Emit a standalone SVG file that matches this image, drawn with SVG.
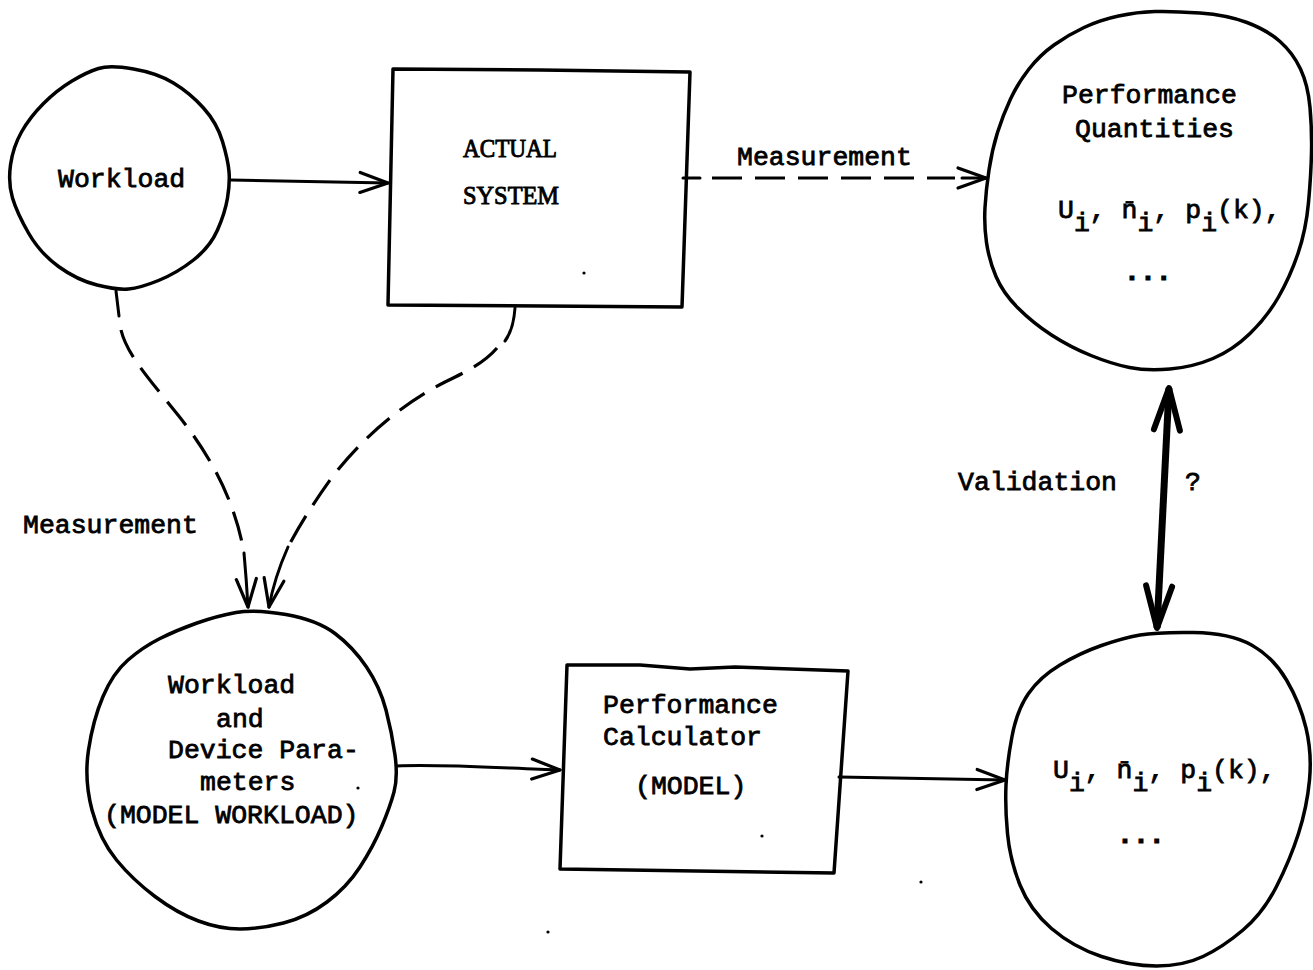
<svg xmlns="http://www.w3.org/2000/svg" width="1313" height="970" viewBox="0 0 1313 970">
  <style>
    .shape { fill: none; stroke: #000; stroke-width: 3.5; stroke-linejoin: round; stroke-linecap: round; }
    .line { fill: none; stroke: #000; stroke-width: 3; stroke-linecap: round; }
    .dash { fill: none; stroke: #000; stroke-width: 3.2; stroke-dasharray: 30 13; stroke-linecap: butt; }
    .heavy { fill: none; stroke: #000; stroke-width: 7; stroke-linecap: butt; }
    .tt { font-family: "Liberation Mono", "DejaVu Sans Mono", monospace; font-size: 26.5px; fill: #000; stroke: #000; stroke-width: 0.8; }
    .rm { font-family: "Liberation Serif", "DejaVu Serif", serif; font-size: 25px; fill: #000; stroke: #000; stroke-width: 0.9; }
    .dots { font-weight: bold; stroke-width: 1.2; }
    .speck { fill: #000; }
  </style>
  <defs>
    <marker id="open" markerUnits="userSpaceOnUse" viewBox="0 0 34 26" markerWidth="34" markerHeight="26" refX="31" refY="13" orient="auto">
      <path d="M3,3 L31,13 L3,23" fill="none" stroke="#000" stroke-width="3.2" stroke-linecap="round" stroke-linejoin="round"/>
    </marker>
    <marker id="bold-head" markerUnits="userSpaceOnUse" viewBox="0 0 52 34" markerWidth="52" markerHeight="34" refX="47" refY="17" orient="auto-start-reverse">
      <path d="M5,4 L47,17 L5,30" fill="none" stroke="#000" stroke-width="6" stroke-linecap="round" stroke-linejoin="round"/>
    </marker>
  </defs>
  <rect width="1313" height="970" fill="#fff"/>

  <!-- Workload -->
  <g id="workload">
    <path class="shape" d="M98.5,68.5 Q110,65 133.5,69 Q157,73 173.5,83 Q190,93 203.5,108 Q217,123 222.5,141.5 Q228,160 229,171.5 Q230,183 227.5,198 Q225,213 217.5,230 Q210,247 193.5,260 Q177,273 158.5,280.5 Q140,288 128.5,289 Q117,290 97,285 Q77,280 58.5,266.5 Q40,253 28.5,233 Q17,213 12.5,198 Q8,183 10.5,165 Q13,147 21.5,132 Q30,117 43.5,103.5 Q57,90 72,81 Q87,72 98.5,68.5 Z"/>
    <text class="tt" x="58" y="187">Workload</text>
  </g>

  <!-- Actual system -->
  <g id="actual-system">
    <path class="shape" d="M393,69 L540,70 L690,72 L682,307 L388,305 Z"/>
    <text class="rm" x="463" y="157" textLength="94" lengthAdjust="spacingAndGlyphs">ACTUAL</text>
    <text class="rm" x="463" y="204" textLength="96" lengthAdjust="spacingAndGlyphs">SYSTEM</text>
    <circle class="speck" cx="584" cy="273" r="1.6"/>
  </g>

  <!-- Measured performance quantities -->
  <g id="performance-quantities">
    <path class="shape" d="M1155,11.5 Q1173,11 1200,13 Q1227,15 1247,22.5 Q1267,30 1280,41.5 Q1293,53 1300.5,69 Q1308,85 1310,107.5 Q1312,130 1311.5,152.5 Q1311,175 1308.5,202.5 Q1306,230 1298,253.5 Q1290,277 1278.5,297 Q1267,317 1250,333.5 Q1233,350 1213,358.5 Q1193,367 1170,369 Q1147,371 1129.5,367.5 Q1112,364 1091,355.5 Q1070,347 1051.5,335 Q1033,323 1018,308 Q1003,293 996,276.5 Q989,260 986.5,242.5 Q984,225 985,207.5 Q986,190 989,170 Q992,150 997.5,132.5 Q1003,115 1010.5,99 Q1018,83 1029,69 Q1040,55 1054,45 Q1068,35 1084,27.5 Q1100,20 1118.5,16 Q1137,12 1155,11.5 Z"/>
    <text class="tt" x="1062" y="103">Performance</text>
    <text class="tt" x="1075" y="137">Quantities</text>
    <text class="tt" x="1058" y="218">U<tspan dy="13">i</tspan><tspan dy="-13">, n&#x304;</tspan><tspan dy="13">i</tspan><tspan dy="-13">, p</tspan><tspan dy="13">i</tspan><tspan dy="-13">(k),</tspan></text>
    <text class="tt dots" x="1124" y="280">...</text>
  </g>

  <!-- Model workload -->
  <g id="model-workload">
    <path class="shape" d="M236,612.5 Q255,609 286,614.5 Q317,620 335,633.5 Q353,647 366.5,667 Q380,687 386,710 Q392,733 395,755 Q398,777 394,792 Q390,807 381.5,827 Q373,847 360,867 Q347,887 327,902 Q307,917 283.5,923 Q260,929 240,929 Q220,929 198.5,921 Q177,913 155,896.5 Q133,880 116.5,860 Q100,840 92,810 Q84,780 88.5,750 Q93,720 103,696.5 Q113,673 128,660 Q143,647 160,638.5 Q177,630 197,623 Q217,616 236,612.5 Z"/>
    <text class="tt" x="168" y="693">Workload</text>
    <text class="tt" x="216" y="727">and</text>
    <text class="tt" x="168" y="758">Device Para-</text>
    <text class="tt" x="200" y="790">meters</text>
    <text class="tt" x="104" y="823">(MODEL WORKLOAD)</text>
    <circle class="speck" cx="358" cy="788" r="1.6"/>
  </g>

  <!-- Performance calculator -->
  <g id="performance-calculator">
    <path class="shape" d="M567,665 L640,665 L690,669 L735,667 L848,671 L834,873 L560,869 Z"/>
    <text class="tt" x="603" y="713">Performance</text>
    <text class="tt" x="603" y="745">Calculator</text>
    <text class="tt" x="635" y="794">(MODEL)</text>
    <circle class="speck" cx="762" cy="836" r="1.6"/>
  </g>

  <!-- Model performance quantities -->
  <g id="model-results">
    <path class="shape" d="M1140,635 Q1157,632 1193.5,632.5 Q1230,633 1251.5,645 Q1273,657 1286.5,680 Q1300,703 1306,728 Q1312,753 1309.5,780 Q1307,807 1298.5,833.5 Q1290,860 1276.5,886.5 Q1263,913 1243,930 Q1223,947 1203,956.5 Q1183,966 1156.5,966 Q1130,966 1101.5,956.5 Q1073,947 1051.5,928.5 Q1030,910 1020,885 Q1010,860 1007.5,833.5 Q1005,807 1006,785 Q1007,763 1012,736.5 Q1017,710 1028.5,693.5 Q1040,677 1060,665 Q1080,653 1101.5,645.5 Q1123,638 1140,635 Z"/>
    <text class="tt" x="1053" y="778">U<tspan dy="13">i</tspan><tspan dy="-13">, n&#x304;</tspan><tspan dy="13">i</tspan><tspan dy="-13">, p</tspan><tspan dy="13">i</tspan><tspan dy="-13">(k),</tspan></text>
    <text class="tt dots" x="1117" y="843">...</text>
  </g>

  <!-- Connectors -->
  <g id="connectors">
    <path class="line" d="M231,180 L388,183" marker-end="url(#open)"/>

    <path class="line" d="M683,178 L700,178"/>
    <path class="dash" d="M712,178 L955,178"/>
    <path class="line" d="M962,178 L986,178" marker-end="url(#open)"/>
    <text class="tt" x="737" y="165">Measurement</text>

    <path class="line" d="M116,291 L119,316"/>
    <path class="dash" d="M121,330 C 127,355 150,380 178,415 C 210,455 235,500 244,553"/>
    <path class="line" d="M244,553 C 246,575 247,590 248,607" marker-end="url(#open)"/>

    <path class="line" d="M515,308 C 514,322 511,333 505,341"/>
    <path class="dash" d="M497,348 C 485,362 468,371 445,382 C 400,405 360,440 330,480 C 310,508 297,530 288,547"/>
    <path class="line" d="M288,547 C 280,565 273,585 269,607" marker-end="url(#open)"/>
    <text class="tt" x="23" y="533">Measurement</text>

    <path class="line" d="M397,766 C 440,764 500,768 560,770" marker-end="url(#open)"/>
    <path class="line" d="M839,777 L1005,780" marker-end="url(#open)"/>

    <path class="heavy" d="M1157,628 L1169,388" marker-start="url(#bold-head)" marker-end="url(#bold-head)"/>
    <text class="tt" x="958" y="490">Validation</text>
    <text class="tt" x="1185" y="490">?</text>
  </g>

  <circle class="speck" cx="548" cy="932" r="1.6"/>
  <circle class="speck" cx="921" cy="882" r="1.6"/>
</svg>
